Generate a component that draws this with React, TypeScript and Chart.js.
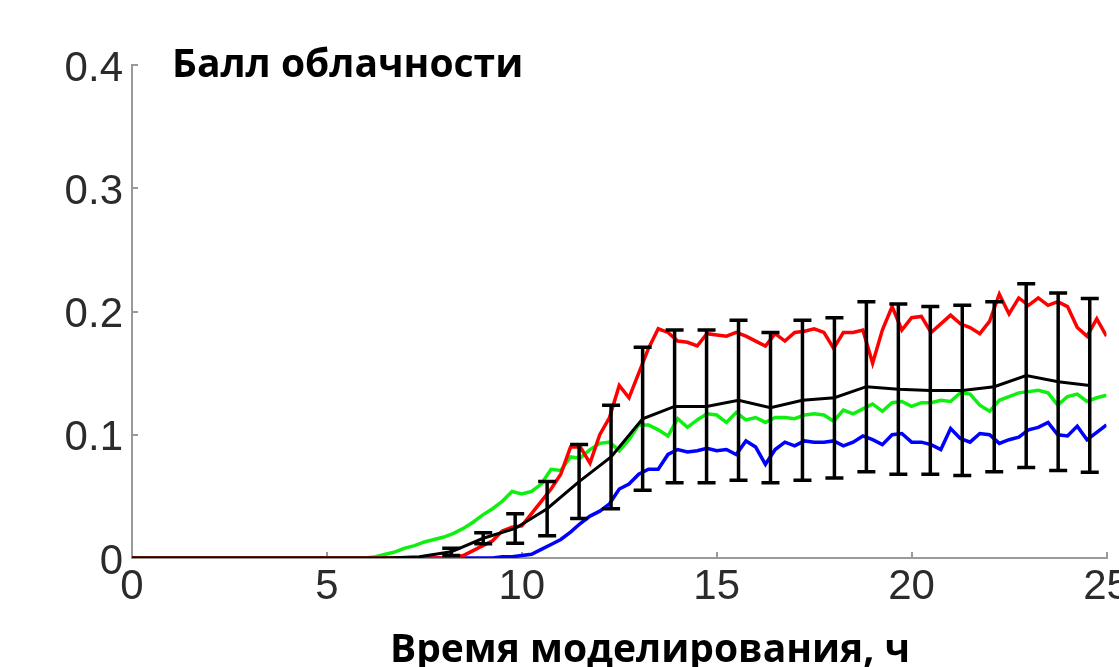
import React, { useEffect, useRef } from "react";
import { Chart, registerables } from "chart.js";

Chart.register(...registerables);

// ---- Text ----
const Y_TITLE = "Балл облачности";
const X_TITLE = "Время моделирования, ч";

// ---- Axis ticks ----
const X_MIN = 0;
const X_MAX = 25;
const X_STEP = 5;
const Y_MIN = 0;
const Y_MAX = 0.4;
const Y_STEP = 0.1;

// ---- Noisy series: sampled every 0.25 h from 6 h to 25 h (value at 0 h is 0) ----
const START_HOUR = 6;
const SAMPLE_STEP = 0.25;

const redValues = [
  0, 0, 0, 0, // 6
  0, 0, 0, 0, // 7
  0, 0, 0.002, 0.006, // 8
  0.01, 0.014, 0.022, 0.025, // 9
  0.026, 0.036, 0.046, 0.056, // 10
  0.068, 0.09, 0.09, 0.077, // 11
  0.1, 0.114, 0.14, 0.13, // 12
  0.15, 0.17, 0.186, 0.183, // 13
  0.176, 0.175, 0.172, 0.182, // 14
  0.181, 0.18, 0.183, 0.18, // 15
  0.176, 0.172, 0.182, 0.176, // 16
  0.183, 0.184, 0.186, 0.183, // 17
  0.17, 0.183, 0.183, 0.185, // 18
  0.158, 0.185, 0.204, 0.185, // 19
  0.195, 0.196, 0.183, 0.19, // 20
  0.197, 0.19, 0.187, 0.182, // 21
  0.192, 0.214, 0.198, 0.211, // 22
  0.205, 0.211, 0.205, 0.208, // 23
  0.204, 0.187, 0.18, 0.194, // 24
  0.18, // 25
];

const greenValues = [
  0, 0.001, 0.003, 0.005, // 6
  0.008, 0.01, 0.013, 0.015, // 7
  0.017, 0.02, 0.024, 0.029, // 8
  0.035, 0.04, 0.046, 0.054, // 9
  0.052, 0.054, 0.06, 0.072, // 10
  0.071, 0.082, 0.081, 0.088, // 11
  0.093, 0.094, 0.087, 0.096, // 12
  0.108, 0.108, 0.104, 0.099, // 13
  0.113, 0.106, 0.112, 0.117, // 14
  0.116, 0.11, 0.118, 0.112, // 15
  0.114, 0.11, 0.114, 0.114, // 16
  0.113, 0.116, 0.117, 0.116, // 17
  0.111, 0.12, 0.117, 0.121, // 18
  0.125, 0.119, 0.126, 0.127, // 19
  0.123, 0.126, 0.126, 0.128, // 20
  0.127, 0.134, 0.133, 0.124, // 21
  0.119, 0.128, 0.131, 0.134, // 22
  0.135, 0.136, 0.134, 0.124, // 23
  0.131, 0.133, 0.127, 0.13, // 24
  0.132, // 25
];

const blueValues = [
  0, 0, 0, 0, // 6
  0, 0, 0, 0, // 7
  0, 0, 0, 0, // 8
  0, 0, 0.001, 0.001, // 9
  0.002, 0.003, 0.007, 0.011, // 10
  0.015, 0.021, 0.028, 0.034, // 11
  0.038, 0.044, 0.056, 0.06, // 12
  0.068, 0.072, 0.072, 0.084, // 13
  0.088, 0.086, 0.087, 0.089, // 14
  0.087, 0.088, 0.084, 0.095, // 15
  0.09, 0.076, 0.088, 0.094, // 16
  0.091, 0.095, 0.094, 0.094, // 17
  0.095, 0.091, 0.094, 0.099, // 18
  0.096, 0.092, 0.1, 0.101, // 19
  0.094, 0.094, 0.092, 0.088, // 20
  0.105, 0.097, 0.094, 0.101, // 21
  0.1, 0.093, 0.096, 0.098, // 22
  0.104, 0.106, 0.11, 0.1, // 23
  0.099, 0.107, 0.096, 0.102, // 24
  0.108, // 25
];

// ---- Mean with error bars ----
const meanTimes = [
  0, 0.82, 1.64, 2.46, 3.28, 4.1, 4.91, 5.73, 6.55, 7.37, 8.19, 9.01, 9.83, 10.65,
  11.47, 12.29, 13.1, 13.92, 14.74, 15.56, 16.38, 17.2, 18.02, 18.84, 19.66, 20.48,
  21.3, 22.12, 22.94, 23.76, 24.57,
];
const meanValues = [
  0, 0, 0, 0, 0, 0, 0, 0, 0, 0.001, 0.005, 0.016, 0.024, 0.04,
  0.062, 0.082, 0.113, 0.123, 0.123, 0.128, 0.122, 0.128, 0.13, 0.139, 0.137, 0.136,
  0.136, 0.139, 0.148, 0.143, 0.14,
];
const meanErrors = [
  0, 0, 0, 0, 0, 0, 0, 0, 0, 0, 0.003, 0.0045, 0.012, 0.022,
  0.03, 0.042, 0.058, 0.062, 0.062, 0.065, 0.061, 0.065, 0.065, 0.069, 0.069, 0.068,
  0.069, 0.069, 0.0745, 0.072, 0.0705,
];

function sampleTimes(n: number): number[] {
  const out: number[] = [0];
  for (let i = 0; i < n; i++) out.push(START_HOUR + i * SAMPLE_STEP);
  return out;
}

function toPoints(values: number[]) {
  const times = sampleTimes(values.length);
  const ys = [0, ...values];
  return times.map((t, i) => ({ x: t, y: ys[i] }));
}

const titlesPlugin = {
  id: "cornerTitles",
  afterDraw(chart: any) {
    const { ctx, chartArea } = chart;
    ctx.save();
    ctx.fillStyle = "#000";
    ctx.font = 'bold 39px "Open Sans"';
    ctx.textBaseline = "alphabetic";
    ctx.textAlign = "left";
    ctx.fillText(Y_TITLE, chartArea.left + 40, chartArea.top + 12);
    ctx.textAlign = "center";
    ctx.fillText(X_TITLE, chartArea.left + 518, chartArea.bottom + 104);
    ctx.restore();
  },
};

export default function App() {
  const canvasRef = useRef<HTMLCanvasElement | null>(null);

  useEffect(() => {
    if (!canvasRef.current) return;

    const stems: any[] = [];
    const caps: any[] = [];
    meanTimes.forEach((t, i) => {
      const e = meanErrors[i];
      if (e <= 0) return;
      const lo = meanValues[i] - e;
      const hi = meanValues[i] + e;
      stems.push({ x: t, y: lo }, { x: t, y: hi }, { x: t, y: null });
      caps.push({ x: t, y: lo }, { x: t, y: hi });
    });

    const meanPoints = meanTimes.map((t, i) => ({ x: t, y: meanValues[i] }));

    const tickFont = { family: '"Liberation Sans", Arial, sans-serif', size: 42 };

    const chart = new Chart(canvasRef.current, {
      type: "line",
      data: {
        datasets: [
          {
            label: "caps",
            data: caps,
            showLine: false,
            pointStyle: "line",
            pointRadius: 9,
            pointBorderWidth: 3.5,
            pointBorderColor: "#000",
            borderColor: "#000",
          } as any,
          {
            label: "stems",
            data: stems,
            borderColor: "#000",
            borderWidth: 3.5,
            pointRadius: 0,
            spanGaps: false,
          },
          {
            label: "mean",
            data: meanPoints,
            borderColor: "#000",
            borderWidth: 3,
            pointRadius: 0,
            tension: 0,
          },
          {
            label: "red",
            data: toPoints(redValues),
            borderColor: "#ff0000",
            borderWidth: 3.5,
            pointRadius: 0,
          },
          {
            label: "green",
            data: toPoints(greenValues),
            borderColor: "#10f010",
            borderWidth: 3.5,
            pointRadius: 0,
          },
          {
            label: "blue",
            data: toPoints(blueValues),
            borderColor: "#0000ff",
            borderWidth: 3.5,
            pointRadius: 0,
          },
        ],
      },
      options: {
        animation: false,
        responsive: true,
        maintainAspectRatio: false,
        layout: { padding: { top: 65, right: 5, bottom: 0, left: 0 } },
        plugins: {
          legend: { display: false },
          tooltip: { enabled: false },
          title: { display: false },
        },
        scales: {
          x: {
            type: "linear",
            min: X_MIN,
            max: X_MAX,
            ticks: {
              stepSize: X_STEP,
              color: "#2b2b2b",
              font: tickFont,
              padding: 10,
              maxRotation: 0,
            },
            grid: {
              drawOnChartArea: false,
              drawTicks: true,
              tickLength: -6,
              color: "#9a9a9a",
              lineWidth: 2,
            },
            border: { display: true, color: "#9a9a9a", width: 2 },
            afterFit(scale: any) {
              scale.height = 109;
              scale.paddingLeft = 0;
              scale.paddingRight = 0;
            },
          },
          y: {
            type: "linear",
            min: Y_MIN,
            max: Y_MAX,
            ticks: {
              stepSize: Y_STEP,
              color: "#2b2b2b",
              font: tickFont,
              padding: 15,
              labelOffset: 4,
              callback: (v: any) => (Number(v) === 0 ? "0" : Number(v).toFixed(1)),
            },
            grid: {
              drawOnChartArea: false,
              drawTicks: true,
              tickLength: -6,
              color: "#9a9a9a",
              lineWidth: 2,
            },
            border: { display: true, color: "#9a9a9a", width: 2 },
            afterFit(scale: any) {
              scale.width = 132;
              scale.paddingTop = 0;
              scale.paddingBottom = 0;
            },
          },
        },
      },
      plugins: [titlesPlugin],
    } as any);

    return () => chart.destroy();
  }, []);

  return (
    <div
      style={{
        position: "fixed",
        left: 0,
        top: 0,
        width: 1119,
        height: 667,
        background: "#fff",
      }}
    >
      <canvas ref={canvasRef} />
    </div>
  );
}
